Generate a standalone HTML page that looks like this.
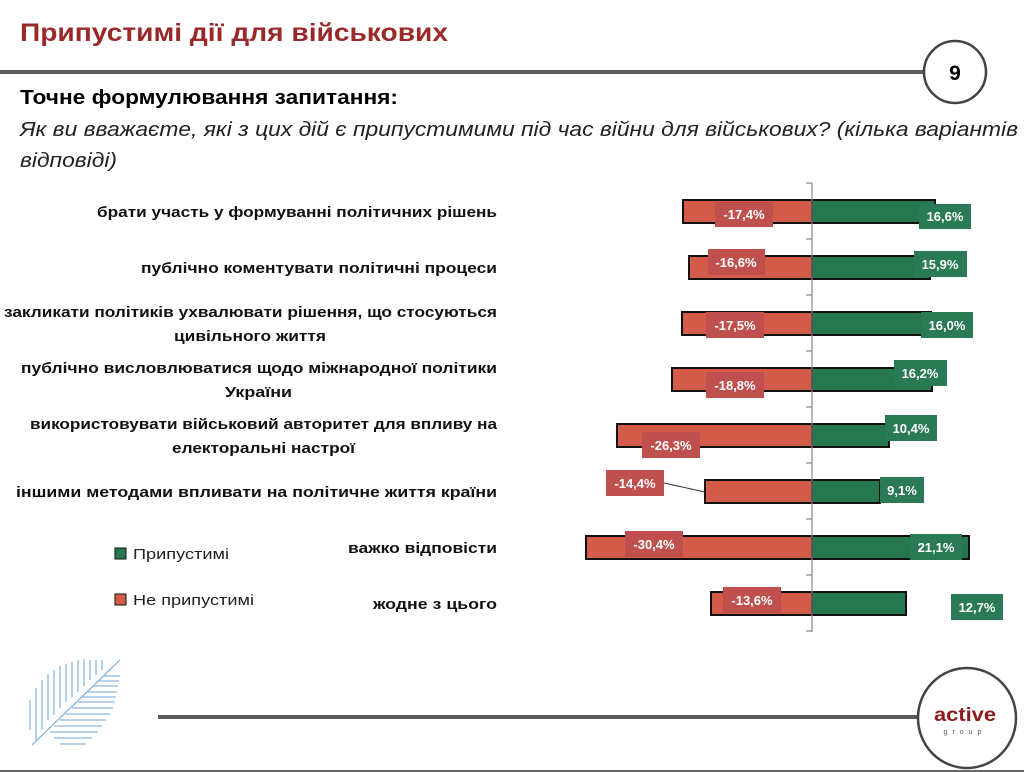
<!DOCTYPE html>
<html><head><meta charset="utf-8"><style>body{margin:0;background:#fff}svg{display:block}</style></head>
<body>
<svg width="1024" height="772" xmlns="http://www.w3.org/2000/svg" font-family="Liberation Sans, sans-serif">
<rect width="1024" height="772" fill="#fff"/>
<text x="20" y="41" font-size="25" font-weight="bold" fill="#9a2a2a" textLength="428" lengthAdjust="spacingAndGlyphs">Припустимі дії для військових</text>
<line x1="0" y1="72" x2="925" y2="72" stroke="#5a5a5e" stroke-width="4"/>
<circle cx="955" cy="72" r="31" fill="#fff" stroke="#444" stroke-width="2.5"/>
<text x="955" y="80" font-size="21" font-weight="bold" text-anchor="middle">9</text>
<text x="20" y="104" font-size="20" font-weight="bold" textLength="378" lengthAdjust="spacingAndGlyphs">Точне формулювання запитання:</text>
<text x="20" y="136" font-size="20" font-style="italic" fill="#222" textLength="998" lengthAdjust="spacingAndGlyphs">Як ви вважаєте, які з цих дій є припустимими під час війни для військових? (кілька варіантів</text>
<text x="20" y="167" font-size="20" font-style="italic" fill="#222" textLength="97" lengthAdjust="spacingAndGlyphs">відповіді)</text>

<g font-size="15" font-weight="bold" fill="#111" text-anchor="end">
<text x="497" y="217" textLength="400" lengthAdjust="spacingAndGlyphs">брати участь у формуванні політичних рішень</text>
<text x="497" y="273" textLength="356" lengthAdjust="spacingAndGlyphs">публічно коментувати політичні процеси</text>
<text x="497" y="317" textLength="493" lengthAdjust="spacingAndGlyphs">закликати політиків ухвалювати рішення, що стосуються</text>
<text x="326" y="341" textLength="152" lengthAdjust="spacingAndGlyphs">цивільного життя</text>
<text x="497" y="373" textLength="476" lengthAdjust="spacingAndGlyphs">публічно висловлюватися щодо міжнародної політики</text>
<text x="292" y="397" textLength="67" lengthAdjust="spacingAndGlyphs">України</text>
<text x="497" y="429" textLength="467" lengthAdjust="spacingAndGlyphs">використовувати військовий авторитет для впливу на</text>
<text x="355" y="453" textLength="183" lengthAdjust="spacingAndGlyphs">електоральні настрої</text>
<text x="497" y="497" textLength="481" lengthAdjust="spacingAndGlyphs">іншими методами впливати на політичне життя країни</text>
<text x="497" y="553" textLength="149" lengthAdjust="spacingAndGlyphs">важко відповісти</text>
<text x="497" y="609" textLength="124" lengthAdjust="spacingAndGlyphs">жодне з цього</text>
</g>

<rect x="115" y="548" width="11" height="11" fill="#267650" stroke="#111" stroke-width="1"/>
<text x="133" y="559" font-size="15" fill="#222" textLength="96" lengthAdjust="spacingAndGlyphs">Припустимі</text>
<rect x="115" y="594" width="11" height="11" fill="#d45b4a" stroke="#111" stroke-width="1"/>
<text x="133" y="605" font-size="15" fill="#222" textLength="121" lengthAdjust="spacingAndGlyphs">Не припустимі</text>

<g stroke="#111" stroke-width="2">
<rect x="683" y="200" width="129" height="23" fill="#d45b4a"/><rect x="812" y="200" width="123" height="23" fill="#267650"/>
<rect x="689" y="256" width="123" height="23" fill="#d45b4a"/><rect x="812" y="256" width="118" height="23" fill="#267650"/>
<rect x="682" y="312" width="130" height="23" fill="#d45b4a"/><rect x="812" y="312" width="119" height="23" fill="#267650"/>
<rect x="672" y="368" width="140" height="23" fill="#d45b4a"/><rect x="812" y="368" width="120" height="23" fill="#267650"/>
<rect x="617" y="424" width="195" height="23" fill="#d45b4a"/><rect x="812" y="424" width="77" height="23" fill="#267650"/>
<rect x="705" y="480" width="107" height="23" fill="#d45b4a"/><rect x="812" y="480" width="68" height="23" fill="#267650"/>
<rect x="586" y="536" width="226" height="23" fill="#d45b4a"/><rect x="812" y="536" width="157" height="23" fill="#267650"/>
<rect x="711" y="592" width="101" height="23" fill="#d45b4a"/><rect x="812" y="592" width="94" height="23" fill="#267650"/>
</g>
<g stroke="#888" stroke-width="1.2">
<line x1="812" y1="183" x2="812" y2="632"/>
<line x1="806" y1="183" x2="812" y2="183"/><line x1="806" y1="239" x2="812" y2="239"/><line x1="806" y1="295" x2="812" y2="295"/><line x1="806" y1="351" x2="812" y2="351"/><line x1="806" y1="407" x2="812" y2="407"/><line x1="806" y1="463" x2="812" y2="463"/><line x1="806" y1="519" x2="812" y2="519"/><line x1="806" y1="575" x2="812" y2="575"/><line x1="806" y1="631" x2="812" y2="631"/>
</g>
<line x1="664" y1="483" x2="705" y2="492" stroke="#333" stroke-width="1"/>

<g font-size="13" font-weight="bold" fill="#fff" text-anchor="middle">
<rect x="715" y="202" width="58" height="25" fill="#c0504d"/><text x="744" y="219">-17,4%</text>
<rect x="919" y="204" width="52" height="25" fill="#2a7a55"/><text x="945" y="221">16,6%</text>
<rect x="708" y="249" width="57" height="26" fill="#c0504d"/><text x="736" y="267">-16,6%</text>
<rect x="914" y="251" width="53" height="26" fill="#2a7a55"/><text x="940" y="269">15,9%</text>
<rect x="706" y="312" width="58" height="26" fill="#c0504d"/><text x="735" y="330">-17,5%</text>
<rect x="921" y="312" width="52" height="26" fill="#2a7a55"/><text x="947" y="330">16,0%</text>
<rect x="706" y="372" width="58" height="26" fill="#c0504d"/><text x="735" y="390">-18,8%</text>
<rect x="894" y="360" width="53" height="26" fill="#2a7a55"/><text x="920" y="378">16,2%</text>
<rect x="642" y="432" width="58" height="26" fill="#c0504d"/><text x="671" y="450">-26,3%</text>
<rect x="885" y="415" width="52" height="26" fill="#2a7a55"/><text x="911" y="433">10,4%</text>
<rect x="606" y="470" width="58" height="26" fill="#c0504d"/><text x="635" y="488">-14,4%</text>
<rect x="880" y="477" width="44" height="26" fill="#2a7a55"/><text x="902" y="495">9,1%</text>
<rect x="625" y="531" width="58" height="26" fill="#c0504d"/><text x="654" y="549">-30,4%</text>
<rect x="910" y="534" width="52" height="26" fill="#2a7a55"/><text x="936" y="552">21,1%</text>
<rect x="723" y="587" width="58" height="26" fill="#c0504d"/><text x="752" y="605">-13,6%</text>
<rect x="951" y="594" width="52" height="26" fill="#2a7a55"/><text x="977" y="612">12,7%</text>
</g>

<g stroke="#8ab8e0" stroke-width="1.3">
<line x1="32" y1="745" x2="120" y2="660"/>
<line x1="30" y1="730" x2="30" y2="700"/><line x1="36" y1="740" x2="36" y2="688"/><line x1="42" y1="730" x2="42" y2="680"/><line x1="48" y1="720" x2="48" y2="674"/><line x1="54" y1="715" x2="54" y2="670"/><line x1="60" y1="708" x2="60" y2="666"/><line x1="66" y1="702" x2="66" y2="664"/><line x1="72" y1="697" x2="72" y2="662"/><line x1="78" y1="692" x2="78" y2="660"/><line x1="84" y1="686" x2="84" y2="659"/><line x1="90" y1="680" x2="90" y2="660"/><line x1="96" y1="675" x2="96" y2="660"/><line x1="102" y1="670" x2="102" y2="660"/>
<line x1="104" y1="676" x2="120" y2="676"/><line x1="99" y1="681" x2="119" y2="681"/><line x1="94" y1="686" x2="118" y2="686"/><line x1="88" y1="692" x2="117" y2="692"/><line x1="83" y1="697" x2="116" y2="697"/><line x1="78" y1="702" x2="115" y2="702"/><line x1="72" y1="708" x2="113" y2="708"/><line x1="66" y1="714" x2="110" y2="714"/><line x1="60" y1="720" x2="106" y2="720"/><line x1="54" y1="726" x2="102" y2="726"/><line x1="50" y1="732" x2="98" y2="732"/><line x1="54" y1="738" x2="92" y2="738"/><line x1="60" y1="744" x2="86" y2="744"/>
</g>
<line x1="158" y1="717" x2="920" y2="717" stroke="#5a5a5e" stroke-width="4"/>
<ellipse cx="967" cy="718" rx="49" ry="50" fill="#fff" stroke="#444" stroke-width="2.5"/>
<text x="965" y="721" font-size="19" font-weight="bold" fill="#8b1a1a" text-anchor="middle" textLength="62" lengthAdjust="spacingAndGlyphs">active</text>
<text x="965" y="734" font-size="7" fill="#555" text-anchor="middle" letter-spacing="5">group</text>
<line x1="0" y1="771" x2="1024" y2="771" stroke="#666" stroke-width="2"/>
</svg>
</body></html>
